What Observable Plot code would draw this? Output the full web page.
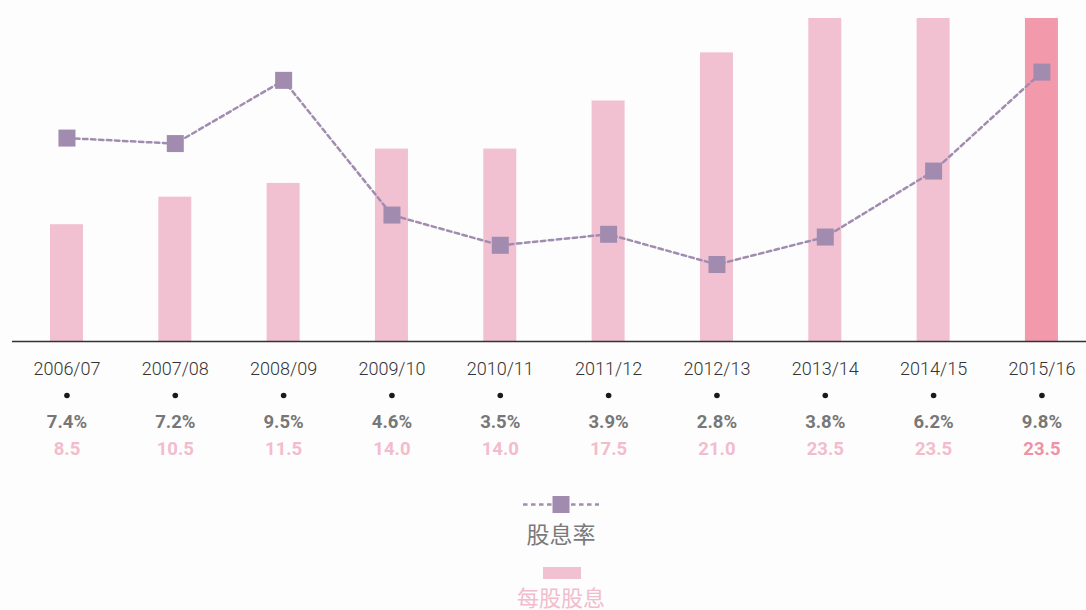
<!DOCTYPE html>
<html>
<head>
<meta charset="utf-8">
<script src="https://cdn.jsdelivr.net/npm/d3@7"></script>
<script src="https://cdn.jsdelivr.net/npm/@observablehq/plot@0.6"></script>
<style>
  html, body { margin: 0; padding: 0; background: #fdfdfd; }
  body { position: relative; width: 1086px; height: 610px; overflow: hidden; font-family: Roboto, "Noto Sans CJK SC", sans-serif; }
  #chart { position: absolute; left: 0; top: 0; }
  .leg { position: absolute; }
  .legtext { position: absolute; left: 561px; transform: translateX(-50%); font-family: "Noto Sans CJK SC", sans-serif; font-size: 23px; white-space: nowrap; line-height: 1; }
</style>
</head>
<body>
<div id="chart"></div>
<svg class="leg" style="left:520px;top:494px" width="82" height="22">
  <line x1="3" y1="10.5" x2="79" y2="10.5" stroke="#a18cb0" stroke-width="2.5" stroke-dasharray="4.5,3.5"/>
  <rect x="32.5" y="2" width="17" height="17" fill="#a18cb0"/>
</svg>
<div class="legtext" style="top:522px;color:#7a7a7a">股息率</div>
<div class="leg" style="left:543px;top:567px;width:38px;height:12px;background:#f1c1d2"></div>
<div class="legtext" style="top:585px;font-size:22px;color:#f2bccd">每股股息</div>
<script>
const years = ["2006/07","2007/08","2008/09","2009/10","2010/11","2011/12","2012/13","2013/14","2014/15","2015/16"];
const yieldPct = [7.4, 7.2, 9.5, 4.6, 3.5, 3.9, 2.8, 3.8, 6.2, 9.8];
const dividend = [8.5, 10.5, 11.5, 14.0, 14.0, 17.5, 21.0, 23.5, 23.5, 23.5];
const highlight = "2015/16";

const rows = years.map((year, i) => ({year, yieldPct: yieldPct[i], dividend: dividend[i], hi: year === highlight}));
const yieldFactor = 2; // secondary axis ratio (yield % -> dividend units)

const chart = Plot.plot({
  width: 1086,
  height: 475,
  marginTop: 18,
  marginBottom: 134,
  marginLeft: 12,
  marginRight: 0,
  style: {fontFamily: "Roboto, sans-serif", background: "transparent", overflow: "visible"},
  x: {type: "band", domain: years, range: [12.3, 1095.6], paddingInner: 0.6954, paddingOuter: 0.3477, round: false, axis: null},
  y: {domain: [0, 23.5], axis: null},
  color: {type: "identity"},
  marks: [
    Plot.barY(rows, {x: "year", y: "dividend", fill: d => d.hi ? "#f29aab" : "#f1c1d2"}),
    Plot.ruleY([0], {stroke: "#333", strokeWidth: 1.5}),
    Plot.line(rows, {x: "year", y: d => d.yieldPct * yieldFactor, stroke: "#a18cb0", strokeWidth: 2.5, strokeDasharray: "4.5,3.5"}),
    Plot.dot(rows, {x: "year", y: d => d.yieldPct * yieldFactor, symbol: "square", r: 9.6, fill: "#a18cb0", stroke: null}),
    Plot.text(rows, {x: "year", y: () => 0, dy: 28, text: "year", fontSize: 18, fill: "#333", fontWeight: 300}),
    Plot.dot(rows, {x: "year", y: () => 0, dy: 54, r: 2.8, fill: "#1a1a1a", stroke: null}),
    Plot.text(rows, {x: "year", y: () => 0, dy: 81, text: d => d.yieldPct.toFixed(1) + "%", fontSize: 18.5, fontWeight: 700, fill: "#777"}),
    Plot.text(rows, {x: "year", y: () => 0, dy: 108, text: d => d.dividend.toFixed(1), fontSize: 18.5, fontWeight: 700, fill: d => d.hi ? "#f091a6" : "#f2bccd"})
  ]
});
document.getElementById("chart").appendChild(chart);
</script>
</body>
</html>
